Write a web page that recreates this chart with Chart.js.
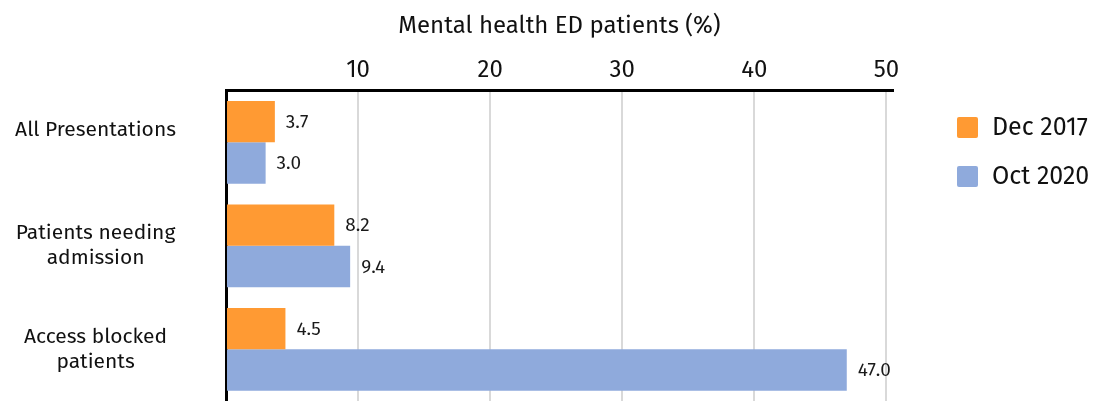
<!DOCTYPE html>
<html lang="en">
<head>
  <meta charset="UTF-8" />
  <title>Mental health ED patients</title>
  <script src="https://cdn.jsdelivr.net/npm/chart.js"></script>
  <style>
    html, body { margin: 0; padding: 0; background: #fff; }
    #wrap { width: 1098px; height: 401px; }
  </style>
</head>
<body>
  <div id="wrap"><canvas id="edChart"></canvas></div>

  <script>
    // first label sits high in the original, as the top line of a two-line slot
    const categories = [["All Presentations", ""], ["Patients needing", "admission"], ["Access blocked", "patients"]];
    const seriesNames = ["Dec 2017", "Oct 2020"];
    const dec2017 = [3.7, 8.2, 4.5];
    const oct2020 = [3.0, 9.4, 47.0];
    const xTicks = [10, 20, 30, 40, 50];

    const FONT = "'Fira Sans', 'Open Sans', sans-serif";
    const colors = ["#FF9A33", "#8FAADC"];

    // value labels just right of each bar
    const valueLabels = {
      id: "valueLabels",
      afterDatasetsDraw(chart) {
        const ctx = chart.ctx;
        ctx.save();
        ctx.font = "19px " + FONT;
        ctx.fillStyle = "#1a1a1a";
        ctx.textAlign = "left";
        ctx.textBaseline = "middle";
        chart.data.datasets.forEach((ds, i) => {
          chart.getDatasetMeta(i).data.forEach((bar, j) => {
            ctx.fillText(ds.data[j].toFixed(1), bar.x + 11, bar.y + 1);
          });
        });
        ctx.restore();
      }
    };

    // legend off to the right of the plot
    const sideLegend = {
      id: "sideLegend",
      afterDraw(chart) {
        const ctx = chart.ctx;
        const x = chart.chartArea.right + 64;
        ctx.save();
        ctx.font = "25px " + FONT;
        ctx.textBaseline = "middle";
        chart.data.datasets.forEach((ds, i) => {
          const cy = 127.5 + i * 49;
          ctx.fillStyle = ds.backgroundColor;
          ctx.beginPath();
          ctx.roundRect(x, cy - 10.5, 21, 21, 2);
          ctx.fill();
          ctx.fillStyle = "#111";
          ctx.fillText(ds.label, x + 35, cy + 1);
        });
        ctx.restore();
      }
    };

    new Chart(document.getElementById("edChart"), {
      type: "bar",
      data: {
        labels: categories,
        datasets: [
          { label: seriesNames[0], data: dec2017, backgroundColor: colors[0] },
          { label: seriesNames[1], data: oct2020, backgroundColor: colors[1] }
        ]
      },
      options: {
        indexAxis: "y",
        responsive: true,
        maintainAspectRatio: false,
        animation: false,
        layout: { padding: { top: 2, right: 205, bottom: -5, left: 0 } },
        datasets: { bar: { categoryPercentage: 0.8, barPercentage: 1.0 } },
        plugins: {
          legend: { display: false },
          tooltip: { enabled: false }
        },
        scales: {
          x: {
            position: "top",
            min: 0,
            max: 50.5,
            afterBuildTicks(scale) {
              scale.ticks = [0].concat(xTicks).map(v => ({ value: v }));
            },
            ticks: {
              includeBounds: false,
              padding: 6,
              color: "#111",
              font: { family: FONT, size: 24 },
              callback: v => (v === 0 ? "" : v)
            },
            grid: { color: "#d9d9d9", lineWidth: 2, drawTicks: false },
            border: { display: true, color: "#000", width: 3 },
            title: {
              display: true,
              text: "Mental health ED patients (%)",
              color: "#111",
              font: { family: FONT, size: 24 },
              padding: { top: 10, bottom: 9 }
            }
          },
          y: {
            afterFit(scale) {
              scale.width = 226;
              scale.paddingTop = 0;
              scale.paddingBottom = 0;
            },
            ticks: {
              crossAlign: "center",
              padding: 50,
              color: "#111",
              font: { family: FONT, size: 21 }
            },
            grid: { display: false, drawTicks: false },
            border: { display: true, color: "#000", width: 3 }
          }
        }
      },
      plugins: [valueLabels, sideLegend]
    });
  </script>
</body>
</html>
